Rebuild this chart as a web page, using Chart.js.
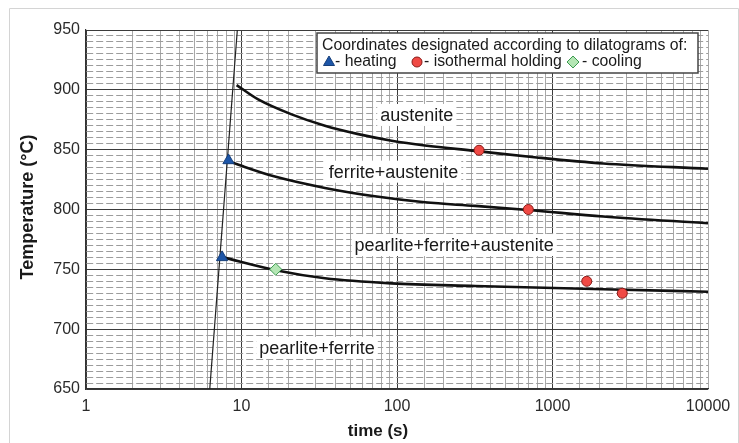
<!DOCTYPE html>
<html>
<head>
<meta charset="utf-8">
<script src="https://cdn.jsdelivr.net/npm/chart.js@4.4.0/dist/chart.umd.min.js"></script>
<style>
  html, body { margin: 0; padding: 0; background: #fff; }
  canvas { display: block; }
</style>
</head>
<body>
<canvas id="chart" width="739" height="443"></canvas>
<script>
const xTicks = [1, 10, 100, 1000, 10000];
const yTicks = [650, 700, 750, 800, 850, 900, 950];

// heating line (nearly vertical)
const heatLineTime = [6.25, 9.4];
const heatLineTemp = [650, 950];

// phase boundaries
const austeniteTime = [9.3, 12.8, 21, 34.4, 56.4, 92.4, 151, 318, 791, 2120, 10000];
const austeniteTemp = [904, 892, 879.5, 870, 863, 857.5, 853.5, 849, 843.5, 838.5, 834];
const ferriteTime = [8.23, 10, 16.4, 34.4, 72, 151, 318, 699, 2120, 10000];
const ferriteTemp = [840.5, 836.5, 827.5, 818, 811, 806, 803, 799.6, 794.2, 788.5];
const pearliteTime = [7.6, 16.6, 34.4, 92, 318, 2120, 10000];
const pearliteTemp = [760, 749.2, 742.5, 738.3, 736.1, 733.3, 731.3];

// dilatogram points
const heatingTime = [7.5, 8.25];
const heatingTemp = [760, 841];
const holdingTime = [337, 699, 1660, 2810];
const holdingTemp = [849.5, 800, 740, 730];
const coolingTime = [16.6];
const coolingTemp = [750];

const regionNames = ["austenite", "ferrite+austenite", "pearlite+ferrite+austenite", "pearlite+ferrite"];
const regionTime = [134, 95, 233, 30.6];
const regionTemp = [879, 831.6, 770.3, 684.3];

const FONT = '"Liberation Sans", Arial, sans-serif';
Chart.defaults.font.family = FONT;

function pts(xs, ys) {
  return xs.map((x, i) => ({ x, y: ys[i] }));
}

function isDecade(v) {
  return xTicks.some((t) => Math.abs(t - v) < t * 1e-6);
}

function marker(ctx, kind, x, y) {
  ctx.beginPath();
  if (kind === "triangle") {
    ctx.moveTo(x, y - 6);
    ctx.lineTo(x + 5.5, y + 3.5);
    ctx.lineTo(x - 5.5, y + 3.5);
    ctx.closePath();
    ctx.fillStyle = "#1d56a8";
    ctx.strokeStyle = "#163f7a";
  } else if (kind === "circle") {
    ctx.arc(x, y, 5, 0, Math.PI * 2);
    ctx.fillStyle = "#f04a45";
    ctx.strokeStyle = "#8a1a17";
  } else {
    ctx.moveTo(x, y - 6);
    ctx.lineTo(x + 6, y);
    ctx.lineTo(x, y + 6);
    ctx.lineTo(x - 6, y);
    ctx.closePath();
    ctx.fillStyle = "#b4e6b4";
    ctx.strokeStyle = "#3c9a50";
  }
  ctx.lineWidth = 1;
  ctx.fill();
  ctx.stroke();
}

const overlay = {
  id: "overlay",
  beforeDatasetsDraw(chart) {
    const { ctx, scales: { x, y } } = chart;
    ctx.save();
    ctx.font = "18px " + FONT;
    ctx.textAlign = "center";
    ctx.textBaseline = "middle";
    regionNames.forEach((name, i) => {
      const px = x.getPixelForValue(regionTime[i]);
      const py = y.getPixelForValue(regionTemp[i]);
      const w = ctx.measureText(name).width;
      ctx.fillStyle = "#fff";
      ctx.fillRect(px - w / 2 - 3, py - 11, w + 6, 22);
      ctx.fillStyle = "#1a1a1a";
      ctx.fillText(name, px, py + 1);
    });
    ctx.restore();
  },
  afterDraw(chart) {
    const ctx = chart.ctx;
    ctx.save();

    // outer frame
    ctx.strokeStyle = "#d4d4d4";
    ctx.lineWidth = 1;
    ctx.beginPath();
    ctx.moveTo(9.5, 443);
    ctx.lineTo(9.5, 8.5);
    ctx.lineTo(738.5, 8.5);
    ctx.lineTo(738.5, 443);
    ctx.stroke();

    // legend box
    ctx.fillStyle = "#fff";
    ctx.fillRect(317, 33, 381, 40);
    ctx.strokeStyle = "#444";
    ctx.lineWidth = 1.5;
    ctx.strokeRect(317, 33, 381, 40);

    ctx.fillStyle = "#1a1a1a";
    ctx.font = "15.8px " + FONT;
    ctx.textAlign = "left";
    ctx.textBaseline = "middle";
    ctx.fillText("Coordinates designated according to dilatograms of:", 322, 46);
    marker(ctx, "triangle", 329, 62);
    ctx.fillStyle = "#1a1a1a";
    ctx.fillText("- heating", 335, 62);
    marker(ctx, "circle", 417, 62);
    ctx.fillStyle = "#1a1a1a";
    ctx.fillText("- isothermal holding", 424, 62);
    marker(ctx, "diamond", 573, 62);
    ctx.fillStyle = "#1a1a1a";
    ctx.fillText("- cooling", 582, 62);

    // axis titles
    ctx.font = "bold 17px " + FONT;
    ctx.textAlign = "center";
    ctx.fillText("time (s)", 378, 431);
    ctx.translate(28, 207);
    ctx.rotate(-Math.PI / 2);
    ctx.font = "bold 18px " + FONT;
    ctx.fillText("Temperature (°C)", 0, 0);
    ctx.restore();
  }
};

const curve = (data) => ({
  data,
  showLine: true,
  borderColor: "#111",
  borderWidth: 2.6,
  pointRadius: 0,
  cubicInterpolationMode: "monotone",
  fill: false
});

new Chart(document.getElementById("chart"), {
  type: "scatter",
  data: {
    datasets: [
      {
        data: pts(coolingTime, coolingTemp),
        pointStyle: "rectRot",
        pointRadius: 6,
        backgroundColor: "#b4e6b4",
        borderColor: "#3c9a50",
        borderWidth: 1
      },
      {
        data: pts(holdingTime, holdingTemp),
        pointStyle: "circle",
        pointRadius: 5,
        backgroundColor: "#f04a45",
        borderColor: "#8a1a17",
        borderWidth: 1
      },
      {
        data: pts(heatingTime, heatingTemp),
        pointStyle: "triangle",
        pointRadius: 6.5,
        backgroundColor: "#1d56a8",
        borderColor: "#163f7a",
        borderWidth: 1
      },
      curve(pts(austeniteTime, austeniteTemp)),
      curve(pts(ferriteTime, ferriteTemp)),
      curve(pts(pearliteTime, pearliteTemp)),
      {
        data: pts(heatLineTime, heatLineTemp),
        showLine: true,
        borderColor: "#222",
        borderWidth: 1.2,
        pointRadius: 0
      }
    ]
  },
  options: {
    responsive: false,
    animation: false,
    devicePixelRatio: 1,
    layout: { padding: { top: 30, right: 31, left: 0, bottom: 0 } },
    plugins: {
      legend: { display: false },
      tooltip: { enabled: false }
    },
    scales: {
      x: {
        type: "logarithmic",
        min: 1,
        max: 10000,
        afterFit: (scale) => { scale.height = 54; },
        grid: {
          drawTicks: false,
          color: (c) => (c.tick && isDecade(c.tick.value) && c.tick.value < 10000 ? "#3c3c3c" : "#a8a8a8"),
          lineWidth: 1
        },
        border: { color: "#333", width: 1.2 },
        ticks: {
          autoSkip: false,
          maxRotation: 0,
          padding: 8,
          color: "#2a2a2a",
          font: { size: 16 },
          callback: (v) => (isDecade(v) ? String(v) : "")
        }
      },
      y: {
        min: 650,
        max: 950,
        afterFit: (scale) => { scale.width = 86; },
        grid: {
          drawTicks: false,
          color: (c) => (c.tick && c.tick.value % 50 === 0 ? "#3c3c3c" : "#9c9c9c"),
          lineWidth: 1
        },
        border: {
          color: "#333",
          width: 1.2,
          dash: (c) => (c.tick && c.tick.value % 50 !== 0 ? [7, 3] : [])
        },
        ticks: {
          stepSize: 5,
          autoSkip: false,
          maxTicksLimit: 100,
          padding: 6,
          color: "#2a2a2a",
          font: { size: 16 },
          callback: (v) => (yTicks.includes(v) ? String(v) : "")
        }
      }
    }
  },
  plugins: [overlay]
});
</script>
</body>
</html>
